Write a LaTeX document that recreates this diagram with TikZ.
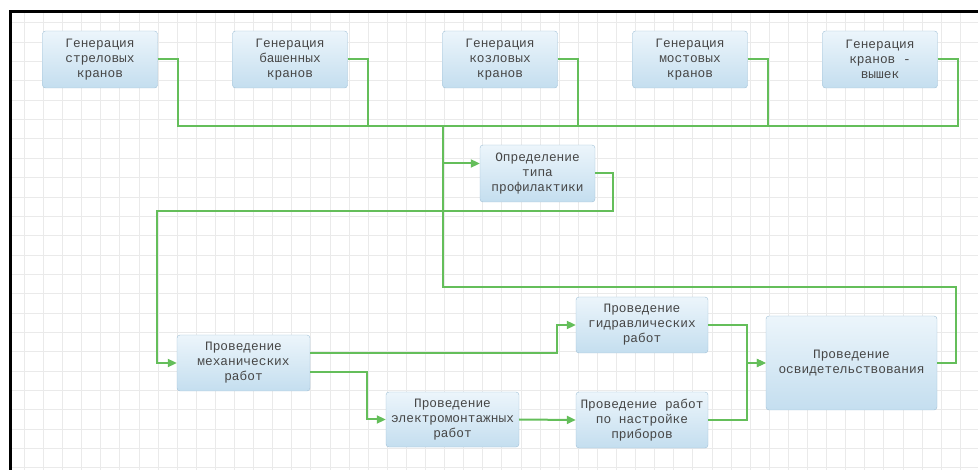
\documentclass[tikz,border=0pt]{standalone}
\usepackage{fontspec}
\usepackage{tikz}
\usetikzlibrary{arrows.meta}
\newfontfamily\boxfont{Liberation Mono}
\definecolor{link}{RGB}{100, 190, 90}
\definecolor{boxtop}{RGB}{236, 245, 251}
\definecolor{boxbot}{RGB}{196, 222, 239}
\definecolor{boxline}{RGB}{160, 192, 214}
\definecolor{ink}{RGB}{70, 70, 70}
\definecolor{gridline}{RGB}{234, 234, 234}

\begin{document}
\begin{tikzpicture}[x=1pt, y=-1pt,
  box/.style={draw=boxline, rounded corners=3pt, top color=boxtop, bottom color=boxbot,
              minimum height=57pt, minimum width=115pt, inner sep=0pt, align=center,
              text=ink, font=\boxfont\fontsize{12.8}{15}\selectfont},
  wire/.style={color=link, line width=2pt},
  arrow/.style={wire, -{Triangle[length=9pt, width=8pt]}}]
  \useasboundingbox (0, 0) rectangle (978, 470);

  \begin{scope}
    \clip (11, 12) rectangle (978, 470);
    \foreach \i in {0, 1, ..., 50} {
      \draw [color=gridline, line width=0.8] (24.3 + 19.1*\i, 12) -- +(0, 460);
    }
    \foreach \i in {0, 1, ..., 24} {
      \draw [color=gridline, line width=0.8] (11, 22.8 + 19.35*\i) -- +(970, 0);
    }
  \end{scope}

  \draw [line width=3pt] (978, 11.5) -- (10, 11.5) -- (10, 470);

  %

  \node [box] (gen1) at (100, 59.5) {Генерация\\стреловых\\кранов};
  \node [box] (gen2) at (290, 59.5) {Генерация\\башенных\\кранов};
  \node [box] (gen3) at (500, 59.5) {Генерация\\козловых\\кранов};
  \node [box] (gen4) at (690, 59.5) {Генерация\\мостовых\\кранов};
  \node [box] (gen5) at (880, 59.5) {Генерация\\кранов -\\вышек};

  \node [box] (opred) at (537.5, 173.5) {Определение\\типа\\профилактики};

  \node [box, minimum width=133pt, minimum height=56pt] (meh) at (243.5, 363) {Проведение\\механических\\работ};
  \node [box, minimum width=133pt, minimum height=55pt] (elek) at (452.5, 419.5) {Проведение\\электромонтажных\\работ};
  \node [box, minimum width=132pt, minimum height=56pt] (gidr) at (642, 325) {Проведение\\гидравлических\\работ};
  \node [box, minimum width=132pt, minimum height=56pt] (nastr) at (642, 420) {Проведение работ\\по настройке\\приборов};
  \node [box, minimum width=171pt, minimum height=94pt] (osvid) at (851.5, 363) {Проведение\\освидетельствования};

  \coordinate (trunk) at (443, 126);
  \coordinate (back) at (443, 287);
  \coordinate (loop) at (157, 211);

  %

  \foreach \n in {1, ..., 5} {
    \draw [wire] (gen\n.east) -- ++(20, 0) |- (trunk);
  }
  \draw [arrow] (trunk) |- ([yshift=10pt]opred.west);

  \draw [arrow] (opred.east) -- ++(18, 0) |- (loop) |- (meh.west);

  \draw [arrow] ([yshift=10pt]meh.east) -- ++(247, 0) |- (gidr.west);
  \draw [arrow] ([yshift=-9pt]meh.east) -- ++(57, 0) |- (elek.west);
  \draw [arrow] (elek.east) -- (nastr.west);

  \draw [arrow] (gidr.east) -- ++(39, 0) |- (osvid.west);
  \draw [arrow] (nastr.east) -- ++(39, 0) |- (osvid.west);

  \draw [wire] (osvid.east) -- ++(19, 0) |- (back) -- (trunk);

\end{tikzpicture}
\end{document}
